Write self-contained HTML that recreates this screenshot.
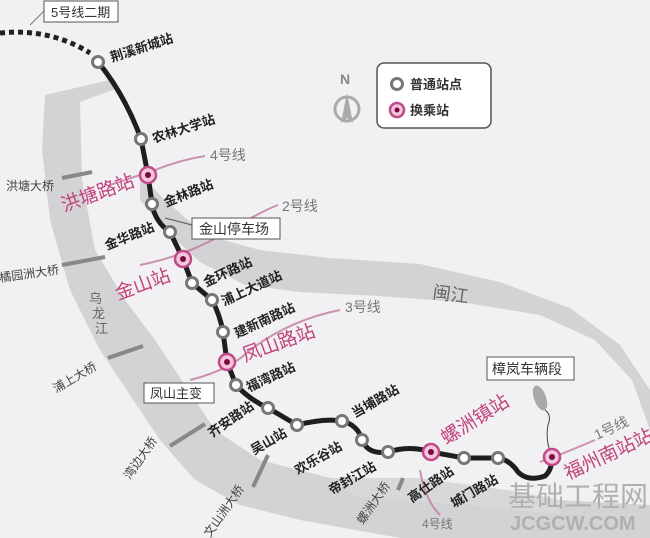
<!DOCTYPE html>
<html><head><meta charset="utf-8"><style>
html,body{margin:0;padding:0;background:#f1f0f2;}
svg{display:block;font-family:"Liberation Sans","Noto Sans CJK SC",sans-serif;}
</style></head><body>
<svg width="650" height="538" viewBox="0 0 650 538" xmlns="http://www.w3.org/2000/svg">
<rect width="650" height="538" fill="#f1f0f2"/>
<!-- rivers -->
<path d="M45,95 L110,80 L118,88 L80,102 L82,180 L95,250 L125,300 L155,340 L185,385 L215,430 L260,460 L330,478 L430,490 L560,500 L650,505 L650,538 L400,538 L300,520 L240,505 L195,480 L160,440 L130,395 L100,350 L70,290 L50,220 L42,150 Z" fill="#d3d2d5"/>
<path d="M140,175 L165,200 L205,235 L260,250 L330,258 L420,264 L500,282 L570,308 L620,345 L650,390 L650,430 L632,380 L595,340 L540,315 L460,302 L380,296 L300,292 L245,285 L200,262 L165,230 L140,200 Z" fill="#d3d2d5"/>
<path d="M330,478 L420,478 L520,492 L560,500 L560,515 L470,505 L360,498 Z" fill="#d8d7da"/>
<!-- bridges -->
<g stroke="#888" stroke-width="4">
<line x1="62" y1="178" x2="92" y2="172"/>
<line x1="62" y1="265" x2="105" y2="257"/>
<line x1="108" y1="358" x2="143" y2="346"/>
<line x1="170" y1="446" x2="205" y2="424"/>
<line x1="253" y1="487" x2="268" y2="455"/>
<line x1="398" y1="490" x2="403" y2="478"/>
</g>
<!-- other lines (pink) -->
<g stroke="#c07a9e" stroke-width="2" fill="none" opacity="0.8">
<path d="M110,185 Q140,175 155,170 Q180,160 205,156"/>
<path d="M140,265 Q190,255 230,230 Q260,212 278,205"/>
<path d="M190,380 Q230,370 250,350 Q290,320 340,310"/>
<path d="M540,462 Q560,455 595,440"/>
<path d="M420,470 Q425,500 440,515"/>
</g>
<!-- 5号线二期 dotted -->
<path d="M0,33 Q50,28 90,53" stroke="#222" stroke-width="5" fill="none" stroke-dasharray="5,4"/>
<line x1="30" y1="25" x2="45" y2="10" stroke="#777" stroke-width="1"/>
<!-- line 6 -->
<path d="M98,62 Q125,95 141,139 L148,175 L152,204 Q155,222 170,232 L183,259 L192,283 L212,300 Q220,315 223,332 L227,362 L236,385 Q250,400 268,408 L297,425 Q325,418 342,421 Q358,425 362,440 Q368,455 388,452 Q410,445 431,452 L464,458 L498,458 Q510,460 518,472 Q528,482 545,476 Q552,470 552,457" stroke="#1e1e1e" stroke-width="5" fill="none"/>
<!-- depot connector -->
<path d="M552,457 Q545,440 548,425 Q552,415 545,410" stroke="#444" stroke-width="1" fill="none"/>
<ellipse cx="540" cy="398" rx="6" ry="13" fill="#a8a7aa" transform="rotate(-20 540 398)"/>
<!-- stations -->
<g fill="#fff" stroke="#777" stroke-width="3">
<circle cx="98" cy="62" r="5.5"/><circle cx="141" cy="139" r="5.5"/><circle cx="152" cy="204" r="5.5"/>
<circle cx="170" cy="232" r="5.5"/><circle cx="192" cy="283" r="5.5"/><circle cx="212" cy="300" r="5.5"/>
<circle cx="223" cy="332" r="5.5"/><circle cx="236" cy="385" r="5.5"/><circle cx="268" cy="408" r="5.5"/>
<circle cx="297" cy="425" r="5.5"/><circle cx="342" cy="421" r="5.5"/><circle cx="362" cy="440" r="5.5"/>
<circle cx="388" cy="452" r="5.5"/><circle cx="464" cy="458" r="5.5"/><circle cx="498" cy="458" r="5.5"/>
</g>
<g>
<g fill="#f3c6dd" stroke="#c04a88" stroke-width="2.5">
<circle cx="148" cy="175" r="8"/><circle cx="183" cy="259" r="8"/><circle cx="227" cy="362" r="8"/>
<circle cx="431" cy="452" r="8"/><circle cx="552" cy="457" r="8"/>
</g>
<g fill="#7a0a3a"><circle cx="148" cy="175" r="3"/><circle cx="183" cy="259" r="3"/><circle cx="227" cy="362" r="3"/><circle cx="431" cy="452" r="3"/><circle cx="552" cy="457" r="3"/></g>
</g>
<!-- station labels -->
<g font-size="13" fill="#222" font-weight="bold">
<text transform="translate(112,62) rotate(-18)">荆溪新城站</text>
<text transform="translate(154,143) rotate(-18)">农林大学站</text>
<text transform="translate(166,207) rotate(-22)">金林路站</text>
<text transform="translate(107,250) rotate(-22)">金华路站</text>
<text transform="translate(206,287) rotate(-25)">金环路站</text>
<text transform="translate(224,306) rotate(-25)">浦上大道站</text>
<text transform="translate(237,338) rotate(-25)">建新南路站</text>
<text transform="translate(249,392) rotate(-25)">福湾路站</text>
<text transform="translate(212,438) rotate(-35)">齐安路站</text>
<text transform="translate(254,455) rotate(-30)">吴山站</text>
<text transform="translate(355,418) rotate(-30)">当埔路站</text>
<text transform="translate(298,475) rotate(-30)">欢乐谷站</text>
<text transform="translate(332,495) rotate(-30)">帝封江站</text>
<text transform="translate(412,503) rotate(-35)">高仕路站</text>
<text transform="translate(454,508) rotate(-30)">城门路站</text>
</g>
<!-- interchange labels -->
<g fill="#c2427e" font-size="19">
<text transform="translate(64,212) rotate(-20)">洪塘路站</text>
<text transform="translate(118,300) rotate(-20)">金山站</text>
<text transform="translate(245,362) rotate(-20)">凤山路站</text>
<text transform="translate(446,445) rotate(-32)">螺洲镇站</text>
<text transform="translate(568,480) rotate(-25)">福州南站站</text>
</g>
<!-- line labels -->
<g fill="#777" font-size="14">
<text x="210" y="160">4号线</text>
<text x="282" y="211">2号线</text>
<text x="345" y="312">3号线</text>
<text transform="translate(597,440) rotate(-25)">1号线</text>
<text x="422" y="528" font-size="12">4号线</text>
</g>
<!-- bridge labels -->
<g fill="#444" font-size="12">
<text x="6" y="190">洪塘大桥</text>
<text x="0" y="282" transform="rotate(-8 0 282)">橘园洲大桥</text>
<text transform="translate(56,393) rotate(-30)">浦上大桥</text>
<text transform="translate(130,480) rotate(-55)">湾边大桥</text>
<text transform="translate(210,538) rotate(-55)">文山洲大桥</text>
<text transform="translate(363,525) rotate(-55)">螺洲大桥</text>
</g>
<g fill="#666" font-size="13">
<text x="89" y="303">乌</text><text x="92" y="318">龙</text><text x="95" y="333">江</text>
<text transform="translate(432,298) rotate(8)" font-size="18">闽江</text>
</g>
<!-- boxes -->
<g fill="#fff" stroke="#555" stroke-width="1">
<rect x="44" y="1" width="74" height="21"/>
<rect x="192" y="218" width="88" height="21"/>
<rect x="144" y="383" width="70" height="20"/>
<rect x="487" y="357" width="87" height="23"/>
<rect x="377" y="63" width="114" height="65" rx="7" stroke-width="1.5"/>
</g>
<line x1="192" y1="225" x2="165" y2="218" stroke="#555"/>
<g fill="#333" font-size="13">
<text x="51" y="17">5号线二期</text>
<text x="199" y="234" font-size="14">金山停车场</text>
<text x="150" y="398" font-size="13">凤山主变</text>
<text x="492" y="374" font-size="14">樟岚车辆段</text>
</g>
<!-- legend -->
<circle cx="397" cy="84" r="5.5" fill="#fff" stroke="#777" stroke-width="3"/>
<circle cx="397" cy="110" r="7" fill="#f3c6dd" stroke="#c04a88" stroke-width="2.5"/>
<circle cx="397" cy="110" r="2.5" fill="#7a0a3a"/>
<text x="410" y="89" font-size="13" font-weight="bold" fill="#333">普通站点</text>
<text x="410" y="115" font-size="13" font-weight="bold" fill="#333">换乘站</text>
<!-- north arrow -->
<text x="340" y="84" font-size="14" fill="#888" font-weight="bold">N</text>
<circle cx="347" cy="109" r="12" fill="none" stroke="#aaa" stroke-width="3"/>
<path d="M347,93 L353,123 L347,118 L341,123 Z" fill="#aaa"/>
<!-- watermark -->
<text x="508" y="506" font-size="28" fill="#b0b0b0">基础工程网</text>
<text x="510" y="530" font-size="20" fill="#b0b0b0" font-weight="bold">JCGCW.COM</text>
</svg>
</body></html>
